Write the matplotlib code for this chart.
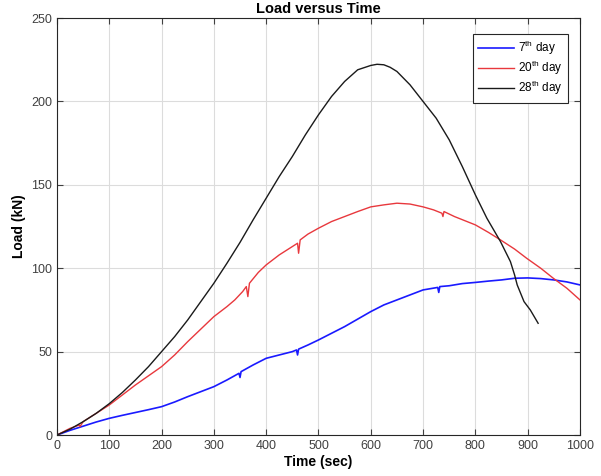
import matplotlib
matplotlib.use("Agg")
import matplotlib.pyplot as plt

plt.rcParams['font.family'] = ['Liberation Sans', 'DejaVu Sans']
plt.rcParams['mathtext.fontset'] = 'custom'
plt.rcParams['mathtext.rm'] = 'Liberation Sans'

# 7th day
t7 = [0, 25, 50, 75, 100, 125, 150, 175, 200, 225, 250, 275, 300, 325, 348,
      350, 352, 375, 400, 425, 450, 458, 460, 462, 480, 500, 525, 550, 575,
      600, 625, 650, 675, 700, 728, 730, 732, 750, 775, 800, 825, 850, 875,
      900, 925, 950, 975, 1000]
load7 = [0, 2.8, 5.3, 7.8, 10, 11.8, 13.5, 15.2, 17, 19.8, 23, 26, 29, 33, 37,
         34.5, 38, 42, 46, 48, 50, 51, 48, 51.5, 54, 57, 61, 65, 69.5,
         74, 78, 81, 84, 87, 88.5, 85.5, 89, 89.5, 90.8, 91.5, 92.3, 93, 94,
         94.2, 93.8, 93, 91.8, 90]

# 20th day
t20 = [0, 25, 43, 44, 50, 75, 100, 125, 150, 175, 200, 225, 250, 275, 300,
       325, 340, 355, 362, 365, 368, 385, 400, 425, 450, 460, 462, 465, 480,
       500, 525, 550, 575, 600, 625, 650, 675, 700, 720, 736, 738, 740, 760,
       780, 800, 825, 848, 875, 898, 925, 949, 975, 1000]
load20 = [0, 4, 6, 5, 8, 13, 18, 24, 30, 35.5, 41, 48, 56, 63.5, 71,
          77, 81, 86, 89, 83, 91, 97.5, 102, 108, 113, 115, 109, 117, 120.5,
          124, 128, 131, 134, 136.8, 138, 139, 138.5, 136.8, 135, 133, 131,
          134, 131, 128.5, 126, 121.5, 117, 111.5, 106, 100, 94, 88, 81]

# 28th day
t28 = [0, 25, 50, 75, 100, 125, 150, 175, 200, 225, 250, 275, 300, 325, 350,
       375, 400, 425, 450, 475, 500, 525, 550, 575, 600, 612, 625, 637, 650,
       675, 700, 725, 750, 775, 800, 822, 848, 867, 875, 880, 893, 905, 920]
load28 = [0, 3.5, 8, 13, 18.8, 25.5, 33, 41, 50, 59, 69, 80, 91, 103, 115.5,
          129, 142, 155, 167, 180, 192, 203, 212, 219, 221.6, 222.3, 222,
          220.5, 218, 210, 200, 190, 177, 161, 144, 130, 116, 104, 96, 90,
          80, 75, 67]

fig = plt.figure(figsize=(6.01, 4.76), dpi=100)
ax = fig.add_axes([0.0948, 0.0861, 0.8702, 0.8759])

ax.plot(t7, load7, color='#1a1aff', lw=1.2, label='7$^{\\mathrm{th}}$ day')
ax.plot(t20, load20, color='#e8383d', lw=1.0, label='20$^{\\mathrm{th}}$ day')
ax.plot(t28, load28, color='#1a1a1a', lw=1.0, label='28$^{\\mathrm{th}}$ day')

ax.set_xlim(0, 1000)
ax.set_ylim(0, 250)
ax.set_xticks(range(0, 1001, 100))
ax.set_yticks(range(0, 251, 50))
ax.grid(True, color='#dcdcdc', lw=0.8)
ax.set_axisbelow(True)
ax.tick_params(direction='in', top=True, right=True, labelsize=9,
               colors='#404040', length=4)
for s in ax.spines.values():
    s.set_color('#262626')
    s.set_linewidth(0.8)

ax.set_title('Load versus Time', fontsize=10.5, fontweight='bold', pad=4)
ax.set_xlabel('Time (sec)', fontsize=10, fontweight='bold', labelpad=2)
ax.set_ylabel('Load (kN)', fontsize=10, fontweight='bold', labelpad=4)

leg = ax.legend(loc='upper right', bbox_to_anchor=(0.977, 0.962),
                borderaxespad=0, fontsize=8.5, fancybox=False, framealpha=1,
                edgecolor='#262626', handlelength=3.1, labelspacing=0.15,
                borderpad=0.45, handletextpad=0.3)
leg.get_frame().set_linewidth(0.8)

fig.savefig('out.png', dpi=100)
